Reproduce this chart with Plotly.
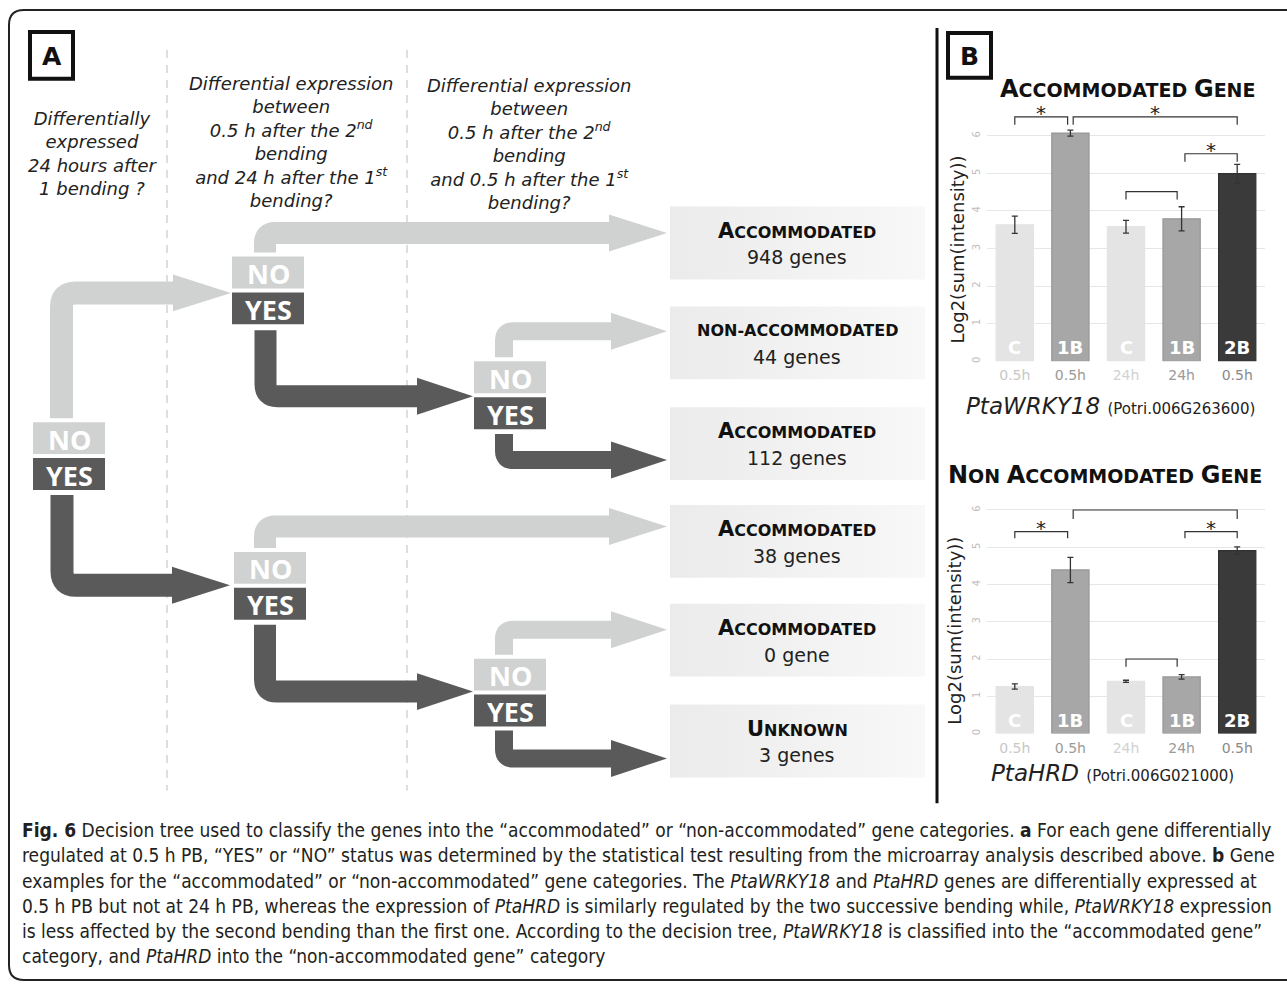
import plotly.graph_objects as go

W, H = 1287, 984

# ---- panel B data ----
conditions = ['C', '1B', 'C', '1B', '2B']
timepoints = ['0.5h', '0.5h', '24h', '24h', '0.5h']
wrky18_mean = [3.63, 6.07, 3.58, 3.79, 4.99]
wrky18_err = [0.23, 0.08, 0.17, 0.32, 0.25]
hrd_mean = [1.26, 4.39, 1.40, 1.52, 4.91]
hrd_err = [0.07, 0.34, 0.03, 0.06, 0.10]

# significance brackets: (left bar, right bar, top, leg bottom, star)
wrky18_sig = [(0, 0.95, 6.5, 6.29, '*'), (1.05, 4, 6.5, 6.29, '*'),
              (3.06, 4, 5.52, 5.31, '*'), (2, 2.92, 4.51, 4.30, '')]
hrd_sig = [(0, 0.95, 5.42, 5.24, '*'), (1.05, 4, 6.0, 5.76, ''),
           (3.06, 4, 5.42, 5.24, '*'), (2, 2.92, 2.0, 1.79, '')]

# ---- panel A data ----
result_labels = ['Accommodated', 'Non-accommodated', 'Accommodated',
                 'Accommodated', 'Accommodated', 'Unknown']
gene_counts = [948, 44, 112, 38, 0, 3]

LIGHT = '#d0d2d1'
DARK = '#5a5a5a'
bar_colors = ['#e4e4e4', '#a7a7a7', '#e4e4e4', '#a7a7a7', '#3a3a3a']
bar_lines = ['#e4e4e4', '#979797', '#e4e4e4', '#979797', '#303030']
tick_colors = ['#c8c8c8', '#9a9a9a', '#d2d2d2', '#9a9a9a', '#8a8a8a']

fig = go.Figure()

# main pixel-space axes (whole canvas)
fig.update_layout(
    width=W, height=H, margin=dict(l=0, r=0, t=0, b=0),
    paper_bgcolor='white', plot_bgcolor='rgba(0,0,0,0)',
    showlegend=False, font=dict(family='DejaVu Sans', color='#222'),
    xaxis=dict(range=[0, W], domain=[0, 1], visible=False, fixedrange=True),
    yaxis=dict(range=[H, 0], domain=[0, 1], visible=False, fixedrange=True),
)

# outer frame + separators
fig.add_shape(type='path', xref='x', yref='y',
              path='M 1300,10 L 24,10 Q 9,10 9,25 L 9,967 Q 9,982 24,982 L 1300,982',
              line=dict(color='#222', width=2), fillcolor='rgba(0,0,0,0)')
fig.add_shape(type='line', xref='x', yref='y', x0=937, x1=937, y0=28, y1=805,
              line=dict(color='#111', width=3))
for xd in [167, 407]:
    fig.add_shape(type='line', xref='x', yref='y', x0=xd, x1=xd, y0=50, y1=792,
                  line=dict(color='#d4d4d4', width=1.5, dash='8px,7px'))

# panel letters
for (bx0, by0, bx1, by1, letter) in [(30, 32, 73, 79, 'A'), (948, 33, 991, 78, 'B')]:
    fig.add_shape(type='rect', xref='x', yref='y', x0=bx0, x1=bx1, y0=by0, y1=by1,
                  line=dict(color='#111', width=4), fillcolor='white')
    fig.add_annotation(x=(bx0 + bx1) / 2, y=(by0 + by1) / 2 + 1, xref='x', yref='y',
                       text='<b>' + letter + '</b>', showarrow=False,
                       font=dict(size=25, color='#111', family='DejaVu Sans'))

# column headers
headers = [
    (92, 154, 'Differentially<br>expressed<br>24 hours after<br>1 bending ?'),
    (291, 142, 'Differential expression<br>between<br>0.5 h after the 2<sup>nd</sup><br>bending<br>'
               'and 24 h after the 1<sup>st</sup><br>bending?'),
    (529, 144, 'Differential expression<br>between<br>0.5 h after the 2<sup>nd</sup><br>bending<br>'
               'and 0.5 h after the 1<sup>st</sup><br>bending?'),
]
for hx, hy, txt in headers:
    fig.add_annotation(x=hx, y=hy, xref='x', yref='y', text='<i>' + txt + '</i>',
                       showarrow=False, align='center',
                       font=dict(size=18, color='#222', family='DejaVu Sans'))

# arrows: x, y start, y turn, head base, head tip, shaft width, corner radius, colour
arrows = [
    (61.5, 419, 293.5, 173, 231, 23, 14, LIGHT),
    (62, 496, 586.5, 172, 230, 23, 14, DARK),
    (265, 253, 233.5, 609, 667, 22, 10, LIGHT),
    (265.5, 331, 397, 417, 473, 22, 12, DARK),
    (265, 549, 527.5, 609, 667, 22, 10, LIGHT),
    (265, 626, 693, 417, 473, 22, 12, DARK),
    (504, 358, 332, 611, 667, 18, 9, LIGHT),
    (504, 435, 461, 611, 667, 18, 9, DARK),
    (504, 656, 631, 611, 667, 18, 9, LIGHT),
    (504, 732, 760, 611, 667, 18, 9, DARK),
]
for ax, ys, yc, xb, xt, w, r, col in arrows:
    s = -1 if yc < ys else 1
    fig.add_shape(type='path', xref='x', yref='y',
                  path=f'M {ax},{ys} L {ax},{yc - s * r} Q {ax},{yc} {ax + r},{yc} L {xb + 2},{yc}',
                  line=dict(color=col, width=w), fillcolor='rgba(0,0,0,0)')
    fig.add_shape(type='path', xref='x', yref='y',
                  path=f'M {xb},{yc - 18.5} L {xt},{yc} L {xb},{yc + 18.5} Z',
                  line=dict(width=0), fillcolor=col)

# NO / YES nodes (left x, NO top y)
nodes = [(33, 423), (232, 257), (234, 553), (474, 362), (474, 660)]
for nx, ny in nodes:
    for dy, col, lab in [(0, LIGHT, 'NO'), (36, DARK, 'YES')]:
        fig.add_shape(type='rect', xref='x', yref='y', x0=nx, x1=nx + 72,
                      y0=ny + dy, y1=ny + dy + 32, line=dict(width=0), fillcolor=col)
        fig.add_annotation(x=nx + 36, y=ny + dy + 17, xref='x', yref='y',
                           text='<b>' + lab + '</b>', showarrow=False,
                           font=dict(size=27, color='white', family='Open Sans'))


def small_caps(words, big):
    # first letter of each word bigger, rest at the annotation's base size
    parts = []
    for wd in words.upper().split(' '):
        parts.append(f'<span style="font-size:{big}px">{wd[0]}</span>{wd[1:]}')
    return ' '.join(parts)


# result boxes
box_tops = [207, 307, 408, 506, 605, 706]
for top, lab, n in zip(box_tops, result_labels, gene_counts):
    fig.add_trace(go.Scatter(
        x=[670, 925, 925, 670, 670], y=[top, top, top + 73, top + 73, top],
        xaxis='x', yaxis='y', mode='lines', line=dict(width=0), fill='toself',
        fillcolor='#efefef',
        fillgradient=dict(type='horizontal', colorscale=[[0, '#ebebeb'], [1, '#f8f8f8']]),
        hoverinfo='skip', showlegend=False))
    title = lab.upper() if lab.startswith('Non') else small_caps(lab, 21)
    fig.add_annotation(x=797, y=top + 24, xref='x', yref='y', text='<b>' + title + '</b>',
                       showarrow=False, font=dict(size=16, color='#111', family='DejaVu Sans'))
    fig.add_annotation(x=797, y=top + 51, xref='x', yref='y',
                       text=f'{n} gene' + ('s' if n > 1 else ''), showarrow=False,
                       font=dict(size=19, color='#222', family='DejaVu Sans'))


# ---- panel B charts ----
def ydom(y0px, ppu, ymax):
    return [1 - y0px / H, 1 - (y0px - ppu * ymax) / H]


xdom = [987 / W, 1265 / W]
charts = [
    (2, wrky18_mean, wrky18_err, wrky18_sig, 6.8, ydom(362, 37.67, 6.8)),
    (3, hrd_mean, hrd_err, hrd_sig, 6.2, ydom(735, 37.33, 6.2)),
]
ticktext = [f'<span style="color:{c}">{t}</span>' for t, c in zip(timepoints, tick_colors)]
for k, means, errs, sig, ymax, dom in charts:
    xa, ya = f'x{k}', f'y{k}'
    fig.add_trace(go.Bar(
        x=list(range(len(means))), y=means, xaxis=xa, yaxis=ya, width=0.67,
        marker=dict(color=bar_colors, line=dict(color=bar_lines, width=1.2)),
        error_y=dict(type='data', array=errs, color='#333', thickness=1.3, width=3),
        hoverinfo='skip', showlegend=False))
    for (a, b, top, leg, star) in sig:
        fig.add_trace(go.Scatter(
            x=[a, a, b, b], y=[leg, top, top, leg], xaxis=xa, yaxis=ya, mode='lines',
            line=dict(color='#333', width=1.2), cliponaxis=False,
            hoverinfo='skip', showlegend=False))
        if star:
            fig.add_annotation(x=(a + b) / 2, y=top, xref=xa, yref=ya, text=star,
                               showarrow=False, yanchor='middle', yshift=4,
                               font=dict(size=20, color='#222'))
    for i, c in enumerate(conditions):
        fig.add_annotation(x=i, y=0, xref=xa, yref=ya, text='<b>' + c + '</b>',
                           showarrow=False, yanchor='bottom', yshift=1,
                           font=dict(size=18, color='white', family='DejaVu Sans'))
    fig.layout[f'xaxis{k}'] = dict(
        domain=xdom, anchor=ya, range=[-0.5, 4.5], tickvals=list(range(5)),
        ticktext=ticktext, showgrid=False, zeroline=False, showline=False, ticks='',
        tickfont=dict(size=14, family='DejaVu Sans'), fixedrange=True,
        ticklabelstandoff=4)
    fig.layout[f'yaxis{k}'] = dict(
        domain=dom, anchor=xa, range=[0, ymax], tickvals=list(range(7)),
        tickangle=-90, tickfont=dict(size=10, color='#bdbdbd'),
        showgrid=True, gridcolor='#e6e6e6', gridwidth=1, zeroline=False,
        showline=False, ticks='', fixedrange=True, ticklabelstandoff=4)

# chart titles, gene names, y titles
fig.add_annotation(x=1127, y=89, xref='x', yref='y', showarrow=False,
                   text='<b>' + small_caps('Accommodated Gene', 24) + '</b>',
                   font=dict(size=19, color='#111', family='DejaVu Sans'))
fig.add_annotation(x=1105, y=476, xref='x', yref='y', showarrow=False,
                   text='<b>' + small_caps('Non Accommodated Gene', 24) + '</b>',
                   font=dict(size=19, color='#111', family='DejaVu Sans'))
for gx, gy, gene, locus in [(1110, 407, 'PtaWRKY18', 'Potri.006G263600'),
                            (1112, 775, 'PtaHRD', 'Potri.006G021000')]:
    fig.add_annotation(x=gx, y=gy, xref='x', yref='y', showarrow=False,
                       text=f'<i>{gene}</i> <span style="font-size:15px">({locus})</span>',
                       font=dict(size=23, color='#222', family='DejaVu Sans'))
for tx, ty in [(957, 250), (955, 632)]:
    fig.add_annotation(x=tx, y=ty, xref='x', yref='y', showarrow=False, textangle=-90,
                       text='Log2(sum(intensity))',
                       font=dict(size=18, color='#222', family='DejaVu Sans'))

# caption
caption = [
    '<b>Fig. 6</b> Decision tree used to classify the genes into the \u201caccommodated\u201d or '
    '\u201cnon-accommodated\u201d gene categories. <b>a</b> For each gene differentially',
    'regulated at 0.5 h PB, \u201cYES\u201d or \u201cNO\u201d status was determined by the statistical '
    'test resulting from the microarray analysis described above. <b>b</b> Gene',
    'examples for the \u201caccommodated\u201d or \u201cnon-accommodated\u201d gene categories. The '
    '<i>PtaWRKY18</i> and <i>PtaHRD</i> genes are differentially expressed at',
    '0.5 h PB but not at 24 h PB, whereas the expression of <i>PtaHRD</i> is similarly regulated by '
    'the two successive bending while, <i>PtaWRKY18</i> expression',
    'is less affected by the second bending than the first one. According to the decision tree, '
    '<i>PtaWRKY18</i> is classified into the \u201caccommodated gene\u201d',
    'category, and <i>PtaHRD</i> into the \u201cnon-accommodated gene\u201d category',
]
for i, line in enumerate(caption):
    fig.add_annotation(x=20, y=832 + 25.2 * i, xref='x', yref='y', xanchor='left',
                       showarrow=False, text=line,
                       font=dict(size=19, color='#231f20',
                                 family='DejaVu Sans Condensed, Liberation Sans'))

fig.write_html('out.html', config={'displayModeBar': False},
               post_script="document.body.style.margin='0';")
